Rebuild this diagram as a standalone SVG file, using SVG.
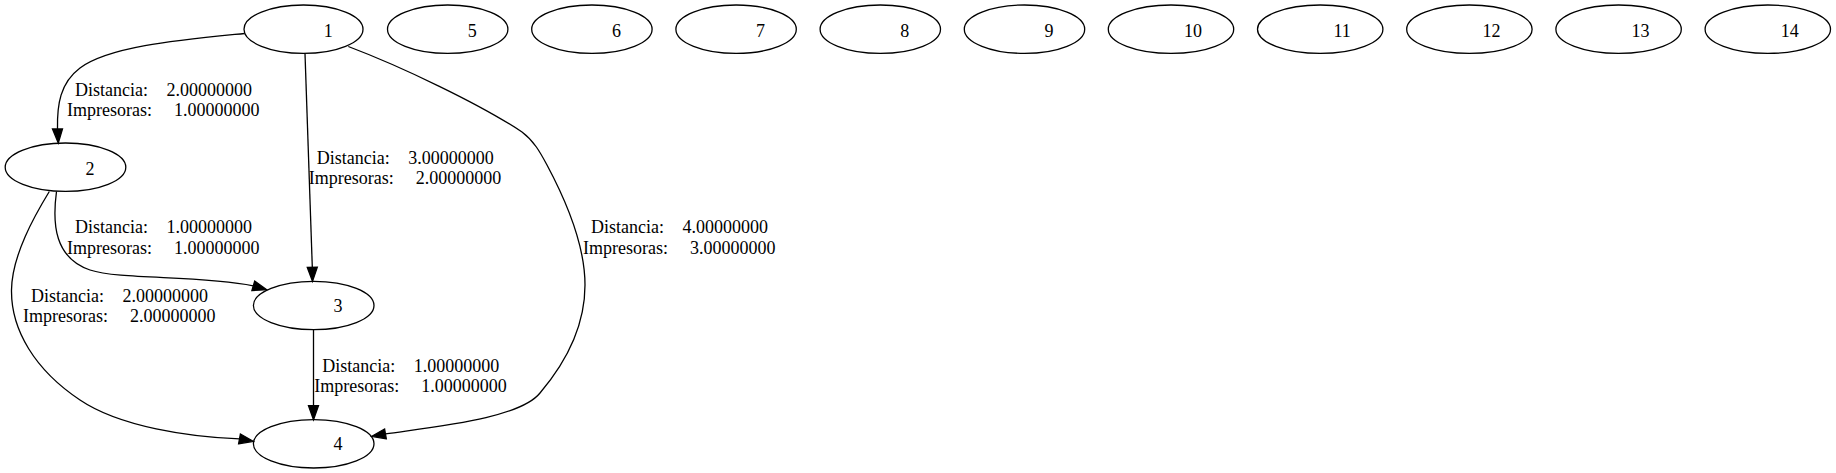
<svg xmlns="http://www.w3.org/2000/svg" width="1836" height="473" viewBox="0 0 1836 473">
<style>
  .n ellipse { fill: none; stroke: #000; stroke-width: 1.3; }
  .n text { font-family: "Liberation Serif", "Times New Roman", serif; font-size: 18px; fill: #000; text-anchor: middle; }
  .e path { fill: none; stroke: #000; stroke-width: 1.3; }
  .e polygon { fill: #000; stroke: #000; stroke-width: 1.3; }
  .lbl { font-family: "Liberation Serif", "Times New Roman", serif; font-size: 18px; fill: #000; }
</style>
<rect width="1836" height="473" fill="#fff"/>

<g id="connectors" class="e">
  <g id="e1-2">
    <path d="M244.5,33.5 C180,40 110,46 80,68 C60,83 57,105 57.5,129"/>
    <polygon points="52.5,129 58.3,143 62.5,129"/>
  </g>
  <g id="e1-3">
    <path d="M305,53.5 L312.3,267.3"/>
    <polygon points="307.3,267.4 312.5,281.3 317.3,267.2"/>
  </g>
  <g id="e1-4">
    <path d="M348.3,46.5 C400,66 480,104 522,132 C534,141 540,152 547,165 C570,208 585,250 585,285 C585,325 568,360 540,393 C520,418 440,426 385.5,433.9"/>
    <polygon points="386.3,438.8 371.7,436.3 384.6,429"/>
  </g>
  <g id="e2-3">
    <path d="M56.5,191.5 C52,225 55,258 90,270 C120,280 200,275 253.3,285.8"/>
    <polygon points="251.9,290.6 266.7,289.7 254.7,281"/>
  </g>
  <g id="e2-4">
    <path d="M49.3,191.5 C35,215 12,255 11.5,290 C11,330 35,370 80,400 C120,427 190,437 239.5,438.9"/>
    <polygon points="238.6,443.8 253.3,441.3 240.4,434"/>
  </g>
  <g id="e3-4">
    <path d="M313.5,329.7 L313.5,405.7"/>
    <polygon points="308.5,405.7 313.5,419.7 318.5,405.7"/>
  </g>
</g>

<g id="edge-labels" class="lbl" xml:space="preserve">
  <text id="l1-2"><tspan x="75" y="95.7">Distancia:</tspan><tspan x="166.5" y="95.7">2.00000000</tspan><tspan x="67" y="115.7">Impresoras:</tspan><tspan x="174" y="115.7">1.00000000</tspan></text>
  <text id="l1-3"><tspan x="316.7" y="164">Distancia:</tspan><tspan x="408.2" y="164">3.00000000</tspan><tspan x="308.7" y="184.2">Impresoras:</tspan><tspan x="415.7" y="184.2">2.00000000</tspan></text>
  <text id="l2-3"><tspan x="75" y="233.3">Distancia:</tspan><tspan x="166.5" y="233.3">1.00000000</tspan><tspan x="67" y="253.5">Impresoras:</tspan><tspan x="174" y="253.5">1.00000000</tspan></text>
  <text id="l2-4"><tspan x="31" y="302">Distancia:</tspan><tspan x="122.5" y="302">2.00000000</tspan><tspan x="23" y="322.2">Impresoras:</tspan><tspan x="130" y="322.2">2.00000000</tspan></text>
  <text id="l3-4"><tspan x="322.3" y="371.5">Distancia:</tspan><tspan x="413.8" y="371.5">1.00000000</tspan><tspan x="314.3" y="391.7">Impresoras:</tspan><tspan x="421.3" y="391.7">1.00000000</tspan></text>
  <text id="l1-4"><tspan x="591" y="233.3">Distancia:</tspan><tspan x="682.5" y="233.3">4.00000000</tspan><tspan x="583" y="253.5">Impresoras:</tspan><tspan x="690" y="253.5">3.00000000</tspan></text>
</g>

<g id="node1" class="n"><ellipse cx="303.5" cy="29.2" rx="59.5" ry="24.2"/><text x="328.3" y="36.8">1</text></g>
<g id="node2" class="n"><ellipse cx="65.5" cy="167.2" rx="60.3" ry="24.2"/><text x="90" y="175">2</text></g>
<g id="node3" class="n"><ellipse cx="313.7" cy="305.5" rx="60.3" ry="24.2"/><text x="338" y="312">3</text></g>
<g id="node4" class="n"><ellipse cx="313.7" cy="443.8" rx="60.3" ry="24.2"/><text x="338" y="450.3">4</text></g>
<g id="node5" class="n"><ellipse cx="447.7" cy="29.2" rx="60.2" ry="24.2"/><text x="472.2" y="36.8">5</text></g>
<g id="node6" class="n"><ellipse cx="591.9" cy="29.2" rx="60.2" ry="24.2"/><text x="616.4" y="36.8">6</text></g>
<g id="node7" class="n"><ellipse cx="736.1" cy="29.2" rx="60.2" ry="24.2"/><text x="760.6" y="36.8">7</text></g>
<g id="node8" class="n"><ellipse cx="880.3" cy="29.2" rx="60.2" ry="24.2"/><text x="904.8" y="36.8">8</text></g>
<g id="node9" class="n"><ellipse cx="1024.5" cy="29.2" rx="60.2" ry="24.2"/><text x="1049" y="36.8">9</text></g>
<g id="node10" class="n"><ellipse cx="1171" cy="29.2" rx="62.7" ry="24.2"/><text x="1193" y="36.8">10</text></g>
<g id="node11" class="n"><ellipse cx="1320.2" cy="29.2" rx="62.7" ry="24.2"/><text x="1342.2" y="36.8">11</text></g>
<g id="node12" class="n"><ellipse cx="1469.4" cy="29.2" rx="62.7" ry="24.2"/><text x="1491.4" y="36.8">12</text></g>
<g id="node13" class="n"><ellipse cx="1618.6" cy="29.2" rx="62.7" ry="24.2"/><text x="1640.6" y="36.8">13</text></g>
<g id="node14" class="n"><ellipse cx="1767.8" cy="29.2" rx="62.7" ry="24.2"/><text x="1789.8" y="36.8">14</text></g>
</svg>
